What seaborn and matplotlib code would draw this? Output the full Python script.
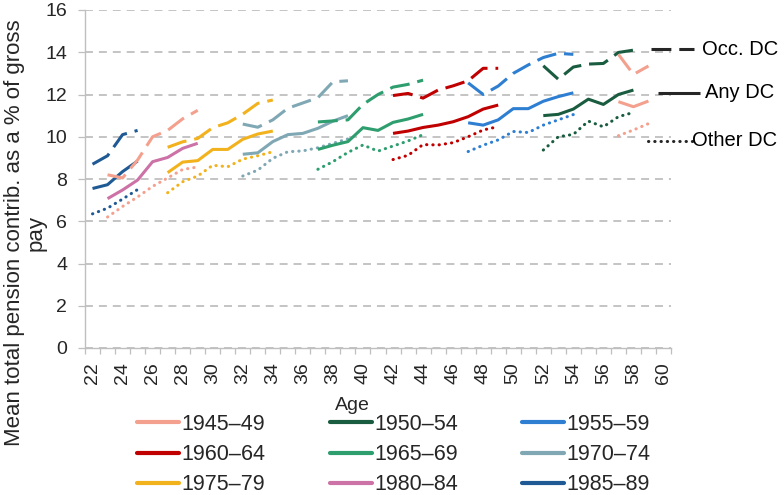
import numpy as np
import pandas as pd
import matplotlib
matplotlib.use("Agg")
import matplotlib.pyplot as plt
from matplotlib.lines import Line2D
import seaborn as sns

sns.set_style("white")
plt.rcParams['font.family'] = ['Liberation Sans', 'DejaVu Sans']

# ---------------- data ----------------
cohorts = ["1945–49", "1950–54", "1955–59", "1960–64", "1965–69",
           "1970–74", "1975–79", "1980–84", "1985–89"]
colors = {"1945–49": "#F4A08E", "1950–54": "#1A5C40", "1955–59": "#2E7ED2",
          "1960–64": "#C00000", "1965–69": "#2E9E6E", "1970–74": "#7FA8B4",
          "1975–79": "#F2B21E", "1980–84": "#CC72A6", "1985–89": "#1F5A94"}

ages_8589 = [22, 23, 24, 25]
any_8589 = [7.55, 7.73, 8.35, 8.85]
occ_8589 = [8.70, 9.10, 10.10, 10.30]
oth_8589 = [6.35, 6.62, 7.05, 7.50]

ages_8084 = [23, 24, 25, 26, 27, 28, 29]
any_8084 = [7.07, 7.48, 7.95, 8.82, 9.02, 9.45, 9.69]
occ_8084 = [8.20, 8.05, 8.90, 10.00, 10.30, 10.85, 11.25]
oth_8084 = [6.20, 6.70, 7.15, 7.65, 8.05, 8.45, 8.57]

ages_7579 = [27, 28, 29, 30, 31, 32, 33, 34]
any_7579 = [8.30, 8.80, 8.87, 9.40, 9.40, 9.88, 10.13, 10.27]
occ_7579 = [9.50, 9.76, 9.92, 10.43, 10.66, 11.07, 11.58, 11.74]
oth_7579 = [7.35, 7.87, 8.14, 8.65, 8.58, 8.94, 9.10, 9.29]

ages_7074 = [32, 33, 34, 35, 36, 37, 38, 39]
any_7074 = [9.17, 9.24, 9.77, 10.10, 10.16, 10.40, 10.74, 11.00]
occ_7074 = [10.60, 10.45, 10.80, 11.35, 11.60, 11.85, 12.60, 12.65]
oth_7074 = [8.14, 8.42, 8.98, 9.29, 9.33, 9.48, 9.69, 9.90]

ages_6569 = [37, 38, 39, 40, 41, 42, 43, 44]
any_6569 = [9.40, 9.60, 9.77, 10.43, 10.30, 10.68, 10.84, 11.06]
occ_6569 = [10.70, 10.75, 10.80, 11.53, 12.00, 12.35, 12.48, 12.68]
oth_6569 = [8.46, 8.82, 9.26, 9.61, 9.32, 9.56, 9.80, 10.10]

ages_6064 = [42, 43, 44, 45, 46, 47, 48, 49]
any_6064 = [10.16, 10.27, 10.44, 10.55, 10.71, 10.95, 11.31, 11.50]
occ_6064 = [11.95, 12.05, 11.83, 12.21, 12.41, 12.65, 13.24, 13.24]
oth_6064 = [8.92, 9.12, 9.63, 9.61, 9.72, 10.00, 10.32, 10.48]

ages_5559 = [47, 48, 49, 50, 51, 52, 53, 54]
any_5559 = [10.66, 10.55, 10.80, 11.33, 11.33, 11.68, 11.90, 12.08]
occ_5559 = [12.55, 12.00, 12.40, 13.00, 13.40, 13.75, 13.95, 13.90]
oth_5559 = [9.30, 9.60, 9.85, 10.25, 10.20, 10.55, 10.80, 11.05]

ages_5054 = [52, 53, 54, 55, 56, 57, 58]
any_5054 = [11.00, 11.06, 11.31, 11.78, 11.53, 12.00, 12.21]
occ_5054 = [13.36, 12.72, 13.30, 13.44, 13.47, 13.99, 14.10]
oth_5054 = [9.37, 10.00, 10.11, 10.74, 10.47, 10.95, 11.15]

ages_4549 = [57, 58, 59]
any_4549 = [11.66, 11.42, 11.69]
occ_4549 = [13.90, 12.95, 13.35]
oth_4549 = [10.05, 10.32, 10.62]

# series: (cohort, measure, ages, values, colour used)
series = [
    ("1985–89", "Any DC", ages_8589, any_8589, colors["1985–89"]),
    ("1985–89", "Occ. DC", ages_8589, occ_8589, colors["1985–89"]),
    ("1985–89", "Other DC", ages_8589, oth_8589, colors["1985–89"]),
    ("1980–84", "Any DC", ages_8084, any_8084, colors["1980–84"]),
    ("1980–84", "Occ. DC", ages_8084, occ_8084, colors["1945–49"]),
    ("1980–84", "Other DC", ages_8084, oth_8084, colors["1945–49"]),
    ("1975–79", "Any DC", ages_7579, any_7579, colors["1975–79"]),
    ("1975–79", "Occ. DC", ages_7579, occ_7579, colors["1975–79"]),
    ("1975–79", "Other DC", ages_7579, oth_7579, colors["1975–79"]),
    ("1970–74", "Any DC", ages_7074, any_7074, colors["1970–74"]),
    ("1970–74", "Occ. DC", ages_7074, occ_7074, colors["1970–74"]),
    ("1970–74", "Other DC", ages_7074, oth_7074, colors["1970–74"]),
    ("1965–69", "Any DC", ages_6569, any_6569, colors["1965–69"]),
    ("1965–69", "Occ. DC", ages_6569, occ_6569, colors["1965–69"]),
    ("1965–69", "Other DC", ages_6569, oth_6569, colors["1965–69"]),
    ("1960–64", "Any DC", ages_6064, any_6064, colors["1960–64"]),
    ("1960–64", "Occ. DC", ages_6064, occ_6064, colors["1960–64"]),
    ("1960–64", "Other DC", ages_6064, oth_6064, colors["1960–64"]),
    ("1955–59", "Any DC", ages_5559, any_5559, colors["1955–59"]),
    ("1955–59", "Occ. DC", ages_5559, occ_5559, colors["1955–59"]),
    ("1955–59", "Other DC", ages_5559, oth_5559, colors["1955–59"]),
    ("1950–54", "Any DC", ages_5054, any_5054, colors["1950–54"]),
    ("1950–54", "Occ. DC", ages_5054, occ_5054, colors["1950–54"]),
    ("1950–54", "Other DC", ages_5054, oth_5054, colors["1950–54"]),
    ("1945–49", "Any DC", ages_4549, any_4549, colors["1945–49"]),
    ("1945–49", "Occ. DC", ages_4549, occ_4549, colors["1945–49"]),
    ("1945–49", "Other DC", ages_4549, oth_4549, colors["1945–49"]),
]

# key lines at the right of the plot (measure, x-start, x-end, level)
key_measures = ["Occ. DC", "Any DC", "Other DC"]
key_x0 = [59.15, 59.65, 58.98]
key_x1 = [62.02, 62.42, 61.95]
key_level = [14.15, 12.08, 9.80]
key_text_x = [62.55, 62.75, 61.90]

y_ticks = [0, 2, 4, 6, 8, 10, 12, 14, 16]
x_ticks = list(range(22, 61, 2))

styles = {"Any DC": dict(linestyle="-", solid_capstyle="butt"),
          "Occ. DC": dict(linestyle=(0, (6.5, 2.6)), dash_capstyle="butt"),
          "Other DC": dict(linestyle=(0, (0.1, 1.95)), dash_capstyle="round")}

# ---------------- figure ----------------
fig = plt.figure(figsize=(7.84, 4.95), dpi=100)
ax = fig.add_axes([85 / 784, 1 - 348 / 495, (671 - 85) / 784, (348 - 10) / 495])

LW = 2.2
for coh, meas, ages, vals, col in series:
    df = pd.DataFrame({"age": ages, "val": vals})
    sns.lineplot(data=df, x="age", y="val", ax=ax, color=col, lw=LW,
                 legend=False, **styles[meas])

# key at right
key_col = "#262626"
for meas, x0, x1, lv, tx in zip(key_measures, key_x0, key_x1, key_level, key_text_x):
    ax.plot([x0, x1], [lv, lv], color=key_col, lw=LW, clip_on=False, **styles[meas])
    ax.text(tx, lv, meas, fontsize=14.5, va="center", ha="left", color="black",
            clip_on=False)

ax.set_xlim(21.5, 60.5)
ax.set_ylim(0, 16)
ax.set_yticks(y_ticks)
ax.set_xticks(x_ticks)
ax.set_xticklabels([str(t) for t in x_ticks], rotation=90)
ax.set_xticks(np.arange(21.5, 60.6, 1.0), minor=True)
ax.tick_params(axis="x", which="major", length=0, pad=10, labelsize=14)
ax.tick_params(axis="x", which="minor", length=4.2, width=0.9, color="#BFBFBF",
               direction="out", bottom=True)
ax.tick_params(axis="y", which="major", length=4.8, width=0.9, color="#BFBFBF",
               direction="out", left=True, pad=8, labelsize=14)
ax.set_xlabel("")
ax.set_ylabel("")

ax.yaxis.grid(True, color="#BFBFBF", lw=1.3, linestyle=(0, (4.4, 3.3)))
ax.xaxis.grid(False)
ax.set_axisbelow(True)
for s in ["top", "right"]:
    ax.spines[s].set_visible(False)
for s in ["left", "bottom"]:
    ax.spines[s].set_color("#BFBFBF")
    ax.spines[s].set_linewidth(1.0)

fig.text(25 / 784, 1 - 233 / 495,
         "Mean total pension contrib. as a % of gross\npay",
         rotation=90, ha="center", va="center", multialignment="center",
         fontsize=16, linespacing=1.05)
fig.text(352 / 784, 1 - 405 / 495, "Age", ha="center", va="center", fontsize=14)

# legend (row-major order in a 3-column grid)
order = ["1945–49", "1960–64", "1975–79",
         "1950–54", "1965–69", "1980–84",
         "1955–59", "1970–74", "1985–89"]
handles = [Line2D([0], [0], color=colors[c], lw=3.0) for c in order]
fig.legend(handles, order, ncol=3, loc="upper left",
           bbox_to_anchor=(137 / 784, 1 - 414 / 495), frameon=False,
           fontsize=15.5, handlelength=1.95, handletextpad=0.12,
           columnspacing=2.98, labelspacing=0.42, borderpad=0, borderaxespad=0)

fig.savefig("out.png", dpi=100)
